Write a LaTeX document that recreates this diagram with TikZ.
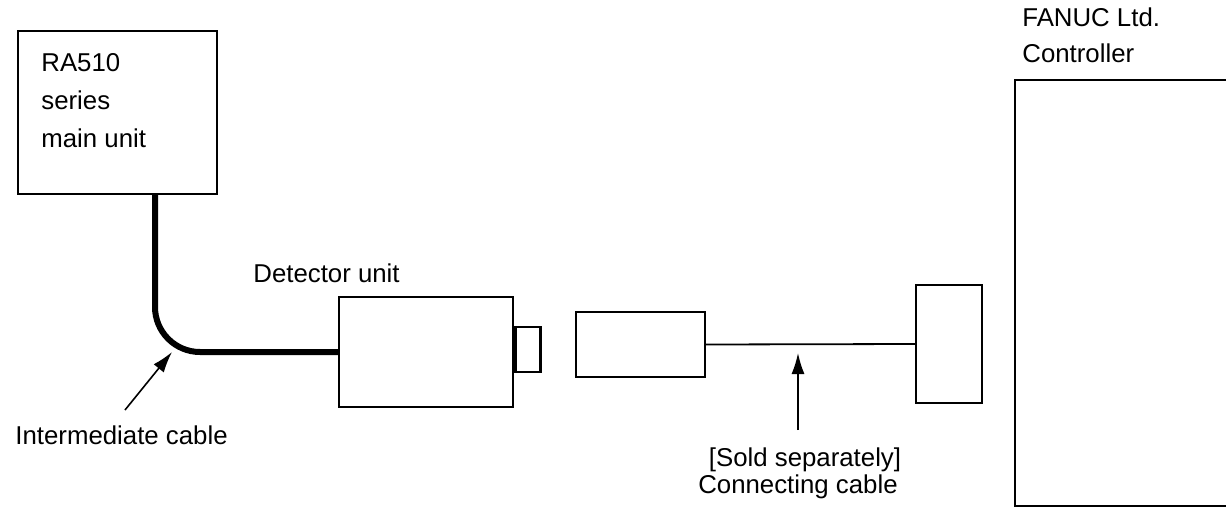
\documentclass[tikz,border=0pt]{standalone}
\usepackage{fontspec}
\setmainfont{Liberation Sans}
\usetikzlibrary{arrows.meta}
\begin{document}
\begin{tikzpicture}[x=0.5pt,y=-0.5pt,
  box/.style={draw,line width=1.2pt,rectangle,inner sep=0pt},
  lbl/.style={anchor=base west,inner sep=0pt,font=\fontsize{12.9}{15}\selectfont},
  thickcable/.style={line width=3pt},
  thincable/.style={line width=0.9pt},
  pointer/.style={line width=0.8pt,-{Latex[length=10.5pt,width=6.5pt]}}]
\useasboundingbox (0,0) rectangle (1226,508);
% main unit
\node[box,minimum width=99.5pt,minimum height=81.5pt] (main) at (117.5,112.5) {};
\node[lbl] (t1) at (41,72) {RA510};
\node[lbl] (t2) at (41,110) {series};
\node[lbl] (t3) at (41,148) {main unit};
% detector
\node[box,minimum width=87pt,minimum height=55pt] (det) at (426,352) {};
\node[box,minimum width=12.5pt,minimum height=22.5pt,anchor=west] (tab) at (det.east |- 0,349.5) {};
\node[lbl] (detl) at (253,282) {Detector unit};
% cable
\coordinate (cab) at (155,0);
\draw[thickcable,rounded corners=22.5pt] (main.south -| cab) |- (det.west);
% intermediate cable label
\coordinate (ia) at (125,410);
\coordinate (ib) at (172,352);
\draw[pointer] (ia) -- (ib);
\node[lbl] (il) at (15,444) {Intermediate cable};
% connecting cable
\node[box,minimum width=64.5pt,minimum height=32.5pt] (plug) at (640.5,344.5) {};
\node[box,minimum width=33pt,minimum height=59pt] (rbox) at (949,344) {};
\draw[thincable] (plug.east) -- (rbox.west);
\coordinate (ca) at (798,430);
\coordinate (cb) at (798,353);
\draw[pointer] (ca) -- (cb);
\node[lbl,anchor=base] (s1) at (805,466) {[Sold separately]};
\node[lbl,anchor=base] (s2) at (798,493) {Connecting cable};
% controller
\draw[line width=1.2pt] (1226,80) -- (1015,80) -- (1015,506) -- (1226,506);
\node[lbl] (f1) at (1022,27) {FANUC Ltd.};
\node[lbl] (f2) at (1022,63) {Controller};
\end{tikzpicture}
\end{document}
